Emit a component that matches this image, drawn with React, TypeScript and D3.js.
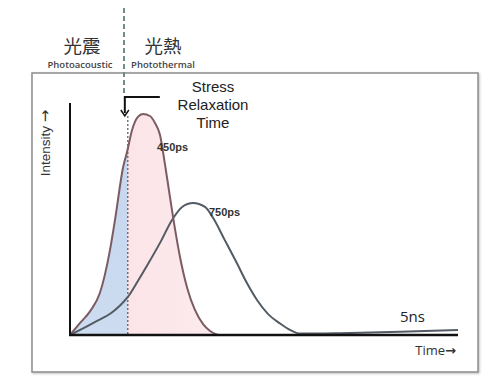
import React from 'react'
import * as d3 from 'd3'

// time in arbitrary units (0..100 spans the whole axis, 100 = 5ns)
const pulse450Time = [0, 2.6, 5.2, 7.7, 10.3, 11.6, 13.7, 14.7, 16.0, 17.5, 18.8, 20.6, 21.9, 23.2, 24.5, 25.8, 27.1, 28.4, 30.2, 32.2, 34.3, 36.1, 38.1]
const pulse450Value = [0, 0.052, 0.103, 0.181, 0.366, 0.496, 0.724, 0.789, 0.884, 0.940, 0.953, 0.944, 0.914, 0.862, 0.733, 0.591, 0.453, 0.332, 0.203, 0.108, 0.047, 0.017, 0]

const pulse750Time = [0, 2.6, 6.4, 10.8, 12.9, 14.9, 17.5, 20.1, 23.2, 26.3, 28.9, 31.7, 34.8, 36.9, 39.9, 43.0, 45.6, 48.2, 51.0, 54.1, 56.7, 59.3, 69.6, 85.1, 100]
const pulse750Value = [0, 0.022, 0.056, 0.097, 0.127, 0.164, 0.233, 0.306, 0.397, 0.496, 0.552, 0.569, 0.552, 0.504, 0.409, 0.310, 0.224, 0.151, 0.091, 0.050, 0.022, 0.006, 0.008, 0.014, 0.022]

const relaxationTime = 14.9
const pulseLabels = ['450ps', '750ps']
const endLabel = '5ns'
const regimeCn = ['光震', '光熱']
const regimeEn = ['Photoacoustic', 'Photothermal']
const stressLines = ['Stress', 'Relaxation', 'Time']

export default function App() {
  const x = d3.scaleLinear().domain([0, 100]).range([70, 458])
  const y = d3.scaleLinear().domain([0, 1]).range([335, 103])

  const p1 = pulse450Time.map((t, i) => [t, pulse450Value[i]] as [number, number])
  const p2 = pulse750Time.map((t, i) => [t, pulse750Value[i]] as [number, number])

  const line = d3.line<[number, number]>()
    .x(d => x(d[0]))
    .y(d => y(d[1]))
    .curve(d3.curveMonotoneX)

  const area = d3.area<[number, number]>()
    .x(d => x(d[0]))
    .y0(y(0))
    .y1(d => y(d[1]))
    .curve(d3.curveMonotoneX)

  const xr = x(relaxationTime)
  const sans = '"Liberation Sans", Arial, sans-serif'
  const arrowFont = '"DejaVu Sans", sans-serif'

  return (
    <svg width={503} height={389} style={{ position: 'absolute', left: 0, top: 0, background: '#fff' }}>
      <defs>
        <clipPath id="leftClip"><rect x={0} y={0} width={xr} height={389} /></clipPath>
        <clipPath id="rightClip"><rect x={xr} y={0} width={503 - xr} height={389} /></clipPath>
        <linearGradient id="pinkGrad" x1="0" x2="1" y1="0" y2="0">
          <stop offset="0" stopColor="#fbe0e5" />
          <stop offset="1" stopColor="#fcebee" />
        </linearGradient>
        <linearGradient id="blueGrad" x1="0" x2="0" y1="0" y2="1">
          <stop offset="0" stopColor="#c2d4ee" />
          <stop offset="1" stopColor="#cddcf0" />
        </linearGradient>
        <filter id="shadow" x="-5%" y="-5%" width="110%" height="110%">
          <feDropShadow dx="1" dy="1" stdDeviation="1" floodColor="#000" floodOpacity="0.25" />
        </filter>
      </defs>

      {/* frame */}
      <rect x={32} y={73} width={446} height={299} fill="#fff" stroke="#8c8c8c" strokeWidth={1.5} filter="url(#shadow)" />

      {/* regime dashed divider */}
      <line x1={124} x2={124} y1={8} y2={96} stroke="#6f8f86" strokeWidth={2} strokeDasharray="5,3" />

      {/* regime labels */}
      {regimeCn.map((t, i) => (
        <text key={t} x={i === 0 ? 82 : 163} y={53} textAnchor="middle" fontSize={18.5}
          fontFamily='"Noto Sans CJK TC", sans-serif' fill="#333">{t}</text>
      ))}
      {regimeEn.map((t, i) => (
        <text key={t} x={i === 0 ? 80 : 163} y={68} textAnchor="middle" fontSize={9.5} fontWeight={600}
          fontFamily='"Open Sans", sans-serif' fill="#444">{t}</text>
      ))}

      {/* fills under 450ps pulse */}
      <path d={area(p1) || ''} fill="url(#blueGrad)" clipPath="url(#leftClip)" />
      <path d={area(p1) || ''} fill="url(#pinkGrad)" clipPath="url(#rightClip)" />

      {/* relaxation dotted line */}
      <line x1={xr} x2={xr} y1={116} y2={y(0)} stroke="#555" strokeWidth={1.2} strokeDasharray="2,2" />

      {/* pulses */}
      <path d={line(p2) || ''} fill="none" stroke="#535b64" strokeWidth={2} />
      <path d={line(p1) || ''} fill="none" stroke="#7b5c63" strokeWidth={2} />

      {/* axes */}
      <line x1={x(0)} x2={x(0)} y1={y(1)} y2={y(0) + 1} stroke="#111" strokeWidth={2} />
      <line x1={x(0) - 1} x2={x(100)} y1={y(0)} y2={y(0)} stroke="#111" strokeWidth={2.5} />

      {/* stress relaxation arrow */}
      <path d={`M${xr + 32},97 H${xr - 3} V113`} fill="none" stroke="#111" strokeWidth={2} />
      <path d={`M${xr - 7},110 L${xr - 3},116 L${xr + 1},110`} fill="none" stroke="#111" strokeWidth={1.5} />

      {stressLines.map((t, i) => (
        <text key={t} x={213} y={92 + i * 18} textAnchor="middle" fontSize={15}
          fontFamily={sans} fill="#222">{t}</text>
      ))}

      {/* pulse labels */}
      <text x={157} y={151} fontSize={11} fontWeight={600} fontFamily={sans} fill="#333">{pulseLabels[0]}</text>
      <text x={209} y={216} fontSize={11} fontWeight={600} fontFamily={sans} fill="#333">{pulseLabels[1]}</text>
      <text x={400} y={322} fontSize={15} fontFamily='"Open Sans", sans-serif' fill="#222">{endLabel}</text>

      {/* axis titles */}
      <text x={456} y={355} textAnchor="end" fontSize={13} fontFamily='"Open Sans", sans-serif' fill="#333">
        Time<tspan fontFamily={arrowFont} fontSize={13} fontWeight={700}>→</tspan>
      </text>
      <text transform="translate(50,143) rotate(-90)" textAnchor="middle" fontSize={13.5}
        fontFamily={sans} fill="#333">
        Intensity <tspan fontFamily={arrowFont} fontSize={15}>→</tspan>
      </text>
    </svg>
  )
}
